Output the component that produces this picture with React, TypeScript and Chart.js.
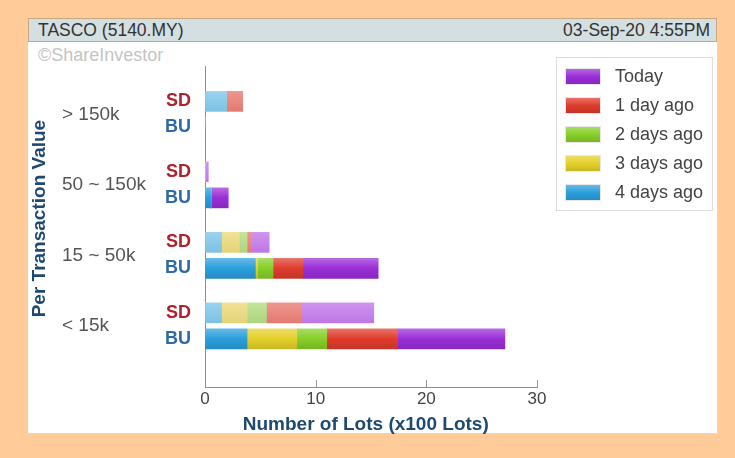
import React, { useEffect, useRef } from 'react';
import { Chart, registerables } from 'chart.js';

Chart.register(...registerables);

// ---- data ----
const groups = ['> 150k', '50 ~ 150k', '15 ~ 50k', '< 15k'];
const sides = ['SD', 'BU'];
const seriesLabels = ['4 days ago', '3 days ago', '2 days ago', '1 day ago', 'Today'];
// rows: SD >150k, BU >150k, SD 50~150k, BU 50~150k, SD 15~50k, BU 15~50k, SD <15k, BU <15k
const fourDaysAgo = [1.95, 0, 0, 0.55, 1.5, 4.55, 1.5, 3.8];
const threeDaysAgo = [0, 0, 0, 0, 1.6, 0.2, 2.3, 4.5];
const twoDaysAgo = [0, 0, 0, 0, 0.7, 1.4, 1.75, 2.7];
const oneDayAgo = [1.45, 0, 0, 0, 0.4, 2.7, 3.2, 6.4];
const today = [0, 0, 0.3, 1.55, 1.6, 6.8, 6.5, 9.7];
const xTickValues = [0, 10, 20, 30];

const seriesValues = [fourDaysAgo, threeDaysAgo, twoDaysAgo, oneDayAgo, today];

// ---- styles ----
const FONT = "'Liberation Sans', Arial, sans-serif";
const NAVY = '#1e4a72';
const buColors = ['#2a9fdc', '#e4d02a', '#86cf28', '#df3c2c', '#9a2ed8'];
const sdColors = ['#82c9ec', '#eddc7c', '#b4de84', '#ec7f76', '#c67ced'];

const GROUP_STEP = 2.71;
const Y_MIN = -1.36;
const Y_MAX = 10.98;
const rowPos = (i: number) => Math.floor(i / 2) * GROUP_STEP + (i % 2);

function mix(hex: string, target: number, amt: number) {
  const n = parseInt(hex.slice(1), 16);
  const r = (n >> 16) & 255, g = (n >> 8) & 255, b = n & 255;
  const f = (c: number) => Math.round(c + (target - c) * amt);
  return `rgb(${f(r)},${f(g)},${f(b)})`;
}

function barGradient(ctx: CanvasRenderingContext2D, top: number, bottom: number, base: string, pastel: boolean) {
  const g = ctx.createLinearGradient(0, top, 0, bottom);
  if (pastel) {
    g.addColorStop(0, mix(base, 255, 0.18));
    g.addColorStop(1, mix(base, 0, 0.04));
  } else {
    g.addColorStop(0, mix(base, 255, 0.28));
    g.addColorStop(0.5, base);
    g.addColorStop(1, mix(base, 0, 0.12));
  }
  return g;
}

const innerTicksPlugin = {
  id: 'innerTicks',
  afterDraw(chart: any) {
    const x = chart.scales.x;
    const { ctx, chartArea } = chart;
    ctx.save();
    ctx.strokeStyle = '#9a9a9a';
    ctx.lineWidth = 1;
    x.ticks.forEach((t: any) => {
      if (t.value === 0) return;
      const px = Math.round(x.getPixelForValue(t.value)) + 0.5;
      ctx.beginPath();
      ctx.moveTo(px, chartArea.bottom - 7);
      ctx.lineTo(px, chartArea.bottom);
      ctx.stroke();
    });
    ctx.restore();
  },
};

const legendPlugin = {
  id: 'boxLegend',
  afterDraw(chart: any) {
    const { ctx, chartArea } = chart;
    const left = chartArea.right + 19;
    const top = chartArea.top - 9;
    const w = 156;
    const h = 153;
    ctx.save();
    ctx.fillStyle = '#ffffff';
    ctx.fillRect(left, top, w, h);
    ctx.strokeStyle = '#dddddd';
    ctx.lineWidth = 1;
    ctx.strokeRect(left + 0.5, top + 0.5, w, h);
    const items = chart.data.datasets.map((d: any, i: number) => ({ label: d.label, i })).reverse();
    items.forEach((it: any, k: number) => {
      const cy = top + 19 + k * 29;
      const bx = left + 10;
      const by = cy - 7;
      ctx.fillStyle = '#e8e8e8';
      ctx.fillRect(bx - 1, by - 1, 36, 17);
      ctx.fillStyle = barGradient(ctx, by, by + 15, buColors[it.i], false);
      ctx.fillRect(bx, by, 34, 15);
      ctx.fillStyle = '#444444';
      ctx.font = `18px ${FONT}`;
      ctx.textBaseline = 'middle';
      ctx.textAlign = 'left';
      ctx.fillText(it.label, left + 59, cy + 1);
    });
    ctx.restore();
  },
};

export default function App() {
  const canvasRef = useRef<HTMLCanvasElement | null>(null);

  useEffect(() => {
    if (!canvasRef.current) return;
    Chart.defaults.font.family = FONT;

    const datasets = seriesLabels.map((label, ds) => ({
      label,
      data: seriesValues[ds].map((v, i) => ({ x: v, y: rowPos(i) })),
      backgroundColor: (c: any) => {
        const chart = c.chart;
        if (c.type !== 'data' || !chart.chartArea) return buColors[ds];
        const y = chart.scales.y.getPixelForValue(rowPos(c.dataIndex));
        const pastel = c.dataIndex % 2 === 0;
        return barGradient(chart.ctx, y - 10, y + 10, pastel ? sdColors[ds] : buColors[ds], pastel);
      },
      borderWidth: 0,
      barThickness: 20,
    }));

    const gridOff = { display: true, drawOnChartArea: false, drawTicks: false, offset: false, color: 'rgba(0,0,0,0)' };

    const chart = new Chart(canvasRef.current, {
      type: 'bar',
      data: { datasets },
      options: {
        indexAxis: 'y',
        animation: false,
        responsive: false,
        layout: { padding: { left: 28, top: 66, right: 198, bottom: 22 } },
        plugins: { legend: { display: false }, tooltip: { enabled: false } },
        scales: {
          x: {
            type: 'linear',
            min: 0,
            max: 30,
            stacked: true,
            afterBuildTicks: (s: any) => {
              s.ticks = xTickValues.map((v) => ({ value: v }));
            },
            grid: gridOff,
            border: { display: true, color: '#8c8c8c', width: 1 },
            ticks: { color: '#444444', font: { size: 17 }, padding: 2 },
            title: {
              display: true,
              text: 'Number of Lots (x100 Lots)  ',
              color: NAVY,
              font: { size: 19, weight: 'bold' },
              padding: 0,
            },
            afterFit: (s: any) => {
              s.height = 49;
            },
          },
          y: {
            type: 'linear',
            position: 'left',
            weight: 0,
            offset: false,
            reverse: true,
            min: Y_MIN,
            max: Y_MAX,
            stacked: true,
            afterBuildTicks: (s: any) => {
              s.ticks = fourDaysAgo.map((_, i) => ({ value: rowPos(i) }));
            },
            ticks: {
              autoSkip: false,
              callback: (_v: any, i: number) => sides[i % 2],
              color: (c: any) => (c.index % 2 === 0 ? '#b0222b' : '#2d6aa7'),
              font: { size: 18, weight: 'bold' },
              padding: 14,
            },
            grid: gridOff,
            border: { display: true, color: '#8c8c8c', width: 1 },
            afterFit: (s: any) => {
              s.width = 45;
            },
          },
          yGroup: {
            type: 'linear',
            position: 'left',
            weight: 1,
            offset: false,
            reverse: true,
            min: Y_MIN,
            max: Y_MAX,
            afterBuildTicks: (s: any) => {
              s.ticks = groups.map((_, g) => ({ value: g * GROUP_STEP + 0.5 }));
            },
            ticks: {
              autoSkip: false,
              crossAlign: 'far',
              callback: (_v: any, i: number) => groups[i],
              color: '#555555',
              font: { size: 19 },
            },
            grid: { display: false },
            border: { display: false },
            afterFit: (s: any) => {
              s.width = 98;
            },
          },
          yTitle: {
            type: 'linear',
            position: 'left',
            weight: 2,
            min: Y_MIN,
            max: Y_MAX,
            ticks: { display: false },
            grid: { display: false },
            border: { display: false },
            title: {
              display: true,
              text: '   Per Transaction Value',
              color: NAVY,
              font: { size: 19, weight: 'bold' },
              padding: 0,
            },
            afterFit: (s: any) => {
              s.width = 34;
            },
          },
        },
      } as any,
      plugins: [innerTicksPlugin, legendPlugin],
    });
    return () => chart.destroy();
  }, []);

  return (
    <div
      style={{
        position: 'fixed',
        left: 0,
        top: 0,
        width: 735,
        height: 458,
        background: '#ffcc99',
        fontFamily: FONT,
        overflow: 'hidden',
      }}
    >
      <div
        style={{
          position: 'absolute',
          left: 28,
          top: 18,
          width: 689,
          height: 415,
          background: '#ffffff',
          boxShadow: '1px 1px 0 #d8d8d8',
        }}
      />
      <div
        style={{
          position: 'absolute',
          left: 28,
          top: 18,
          height: 22,
          width: 672,
          background: '#d3dfe0',
          border: '1px solid #c8a680',
          display: 'flex',
          alignItems: 'center',
          justifyContent: 'space-between',
          padding: '0 6px 0 9px',
          boxSizing: 'content-box',
          fontSize: 17.5,
          color: '#333333',
          lineHeight: '22px',
        }}
      >
        <span>TASCO (5140.MY)</span>
        <span>03-Sep-20 4:55PM</span>
      </div>
      <div
        style={{
          position: 'absolute',
          left: 38,
          top: 45,
          fontSize: 18,
          color: '#c4c4c4',
          lineHeight: '20px',
        }}
      >
        ©ShareInvestor
      </div>
      <canvas
        ref={canvasRef}
        width={735}
        height={458}
        style={{ position: 'absolute', left: 0, top: 0, width: 735, height: 458 }}
      />
    </div>
  );
}
